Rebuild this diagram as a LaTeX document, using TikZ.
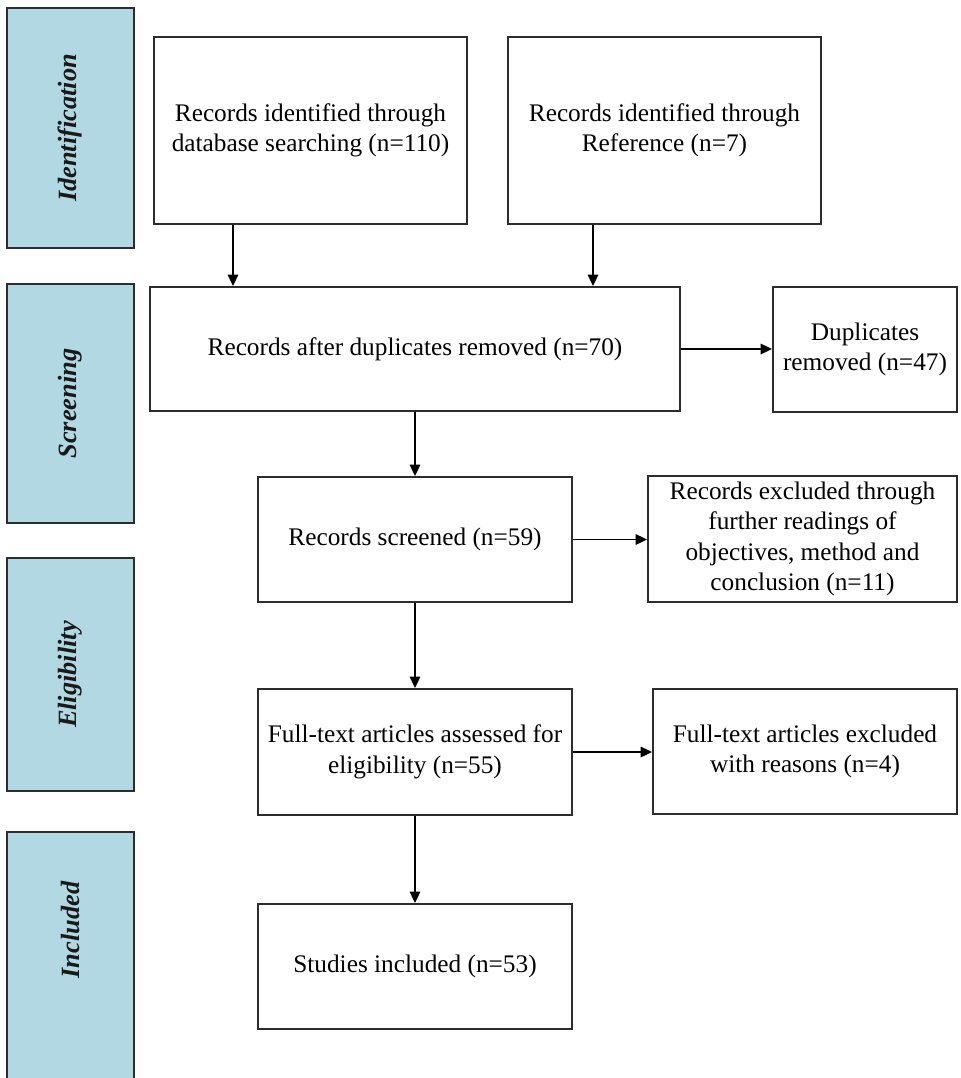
\documentclass[tikz,border=0pt]{standalone}
\usepackage{fontspec}
\setmainfont{Liberation Serif}
\usetikzlibrary{arrows.meta}
\definecolor{phasefill}{RGB}{178,216,228}
\definecolor{edge}{RGB}{45,45,45}
\begin{document}
\begin{tikzpicture}[x=0.02cm,y=-0.02cm,
  box/.style={draw=edge,line width=1.1pt,fill=white,align=center,inner sep=0pt,
    font=\fontsize{14.4}{17.4}\selectfont,text=black},
  phase/.style={draw=edge,line width=1.2pt,fill=phasefill,minimum width=2.54cm,inner sep=0pt},
  phaselabel/.style={rotate=90,text=black!90,font=\fontsize{15}{18}\selectfont\bfseries\itshape},
  arr/.style={draw=black,line width=0.9pt,-{Triangle[length=6.5pt,width=6pt]}}]
\useasboundingbox (0,0) rectangle (960,1078);
\fill[white] (0,0) rectangle (960,1078);

% phase bars on the left
\node[phase,minimum height=4.8cm] (pid) at (70.5,128) {};
\node[phaselabel] (lid) at (pid) {Identification};
\node[phase,minimum height=4.78cm] (psc) at (70.5,403.5) {};
\node[phaselabel] (lsc) at (psc) {Screening};
\node[phase,minimum height=4.66cm] (pel) at (70.5,674.5) {};
\node[phaselabel] (lel) at (pel) {Eligibility};
\begin{scope}
  \clip (0,0) rectangle (960,1078);
  \node[phase,minimum height=5.06cm] (pin) at (70.5,958.5) {};
\end{scope}
\node[phaselabel] (lin) at (70.5,930) {Included};

% flow boxes
\node[box,minimum width=6.26cm,minimum height=3.74cm] (db) at (310.5,130.5)
  {Records identified through\\database searching (n=110)};
\node[box,minimum width=6.26cm,minimum height=3.74cm] (ref) at (664.5,130.5)
  {Records identified through\\Reference (n=7)};
\node[box,minimum width=10.62cm,minimum height=2.48cm] (dup) at (415,349)
  {Records after duplicates removed (n=70)};
\node[box,minimum width=3.68cm,minimum height=2.5cm] (rm) at (865,349.5)
  {Duplicates\\removed (n=47)};
\node[box,minimum width=6.28cm,minimum height=2.5cm] (scr) at (415,539.5)
  {Records screened (n=59)};
\node[box,minimum width=6.18cm,minimum height=2.52cm] (exs) at (802.5,539)
  {Records excluded through\\further readings of\\objectives, method and\\conclusion (n=11)};
\node[box,minimum width=6.28cm,minimum height=2.52cm] (ft) at (415,752)
  {Full-text articles assessed for\\eligibility (n=55)};
\node[box,minimum width=6.08cm,minimum height=2.5cm] (exf) at (805,751.5)
  {Full-text articles excluded\\with reasons (n=4)};
\node[box,minimum width=6.28cm,minimum height=2.5cm] (inc) at (415,966.5)
  {Studies included (n=53)};

% connectors
\coordinate (c1) at (233,0);
\coordinate (c2) at (593,0);
\draw[arr] (db.south -| c1) -- (dup.north -| c1);
\draw[arr] (ref.south -| c2) -- (dup.north -| c2);
\draw[arr] (dup.east) -- (dup.east -| rm.west);
\draw[arr] (dup.south) -- (scr.north);
\draw[arr] (scr.east) -- (scr.east -| exs.west);
\draw[arr] (scr.south) -- (ft.north);
\draw[arr] (ft.east) -- (ft.east -| exf.west);
\draw[arr] (ft.south) -- (inc.north);
\end{tikzpicture}
\end{document}
